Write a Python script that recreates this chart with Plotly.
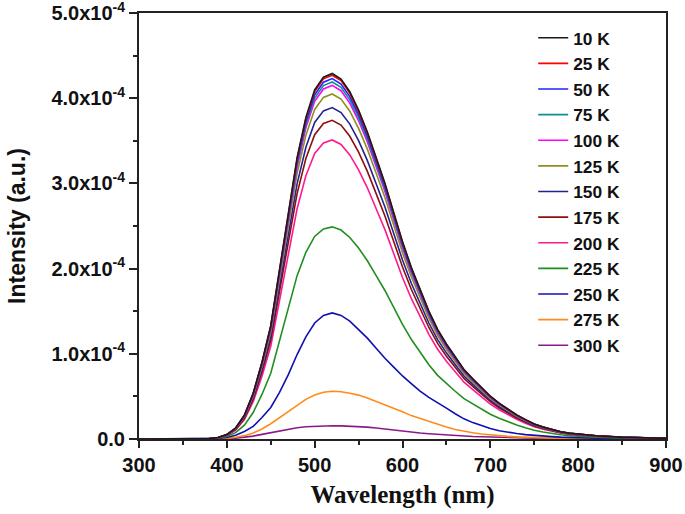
import plotly.graph_objects as go

# Wavelength grid (nm)
wavelength = [300, 350, 380, 390, 400, 410, 420, 430, 440, 450, 460, 470, 480, 490,
              500, 510, 520, 530, 540, 550, 560, 570, 580, 590, 600, 610, 620,
              630, 640, 650, 660, 670, 680, 690, 700, 710, 720, 730, 740, 750,
              760, 770, 780, 790, 800, 820, 850, 880, 900]

# Normalised band profiles (peak = 1 at ~520 nm)
profile_low_T = [0.0, 0.0, 0.001, 0.004, 0.012, 0.03, 0.065, 0.125, 0.21, 0.31, 0.46, 0.62, 0.77, 0.88,
                 0.955, 0.99, 1.0, 0.985, 0.95, 0.90, 0.84, 0.77, 0.70, 0.62, 0.54, 0.47, 0.41,
                 0.35, 0.30, 0.26, 0.225, 0.19, 0.165, 0.14, 0.117, 0.098, 0.081, 0.066, 0.053, 0.041,
                 0.033, 0.026, 0.020, 0.016, 0.013, 0.009, 0.005, 0.003, 0.002]
profile_250K = [0.0, 0.0, 0.001, 0.005, 0.012, 0.03, 0.06, 0.10, 0.17, 0.25, 0.37, 0.51, 0.67, 0.81,
                0.92, 0.98, 1.0, 0.98, 0.935, 0.87, 0.80, 0.72, 0.64, 0.57, 0.50, 0.44, 0.38,
                0.33, 0.29, 0.245, 0.20, 0.16, 0.13, 0.105, 0.083, 0.066, 0.053, 0.043, 0.035, 0.028,
                0.023, 0.019, 0.015, 0.012, 0.010, 0.007, 0.005, 0.003, 0.002]
profile_275K = [0.0, 0.0, 0.0, 0.003, 0.01, 0.035, 0.07, 0.125, 0.21, 0.32, 0.45, 0.58, 0.71, 0.83,
                0.92, 0.98, 1.0, 0.99, 0.96, 0.92, 0.86, 0.79, 0.72, 0.64, 0.57, 0.49, 0.43,
                0.36, 0.30, 0.25, 0.20, 0.16, 0.13, 0.105, 0.085, 0.07, 0.055, 0.045, 0.035, 0.028,
                0.022, 0.018, 0.014, 0.012, 0.010, 0.007, 0.004, 0.003, 0.002]
profile_300K = [0.0, 0.0, 0.0, 0.0, 0.03, 0.07, 0.13, 0.22, 0.35, 0.48, 0.62, 0.74, 0.85, 0.93,
                0.97, 0.99, 1.0, 0.995, 0.98, 0.95, 0.90, 0.83, 0.75, 0.66, 0.58, 0.51, 0.45,
                0.40, 0.35, 0.30, 0.26, 0.22, 0.19, 0.165, 0.14, 0.12, 0.10, 0.085, 0.07, 0.06,
                0.05, 0.042, 0.035, 0.03, 0.025, 0.018, 0.01, 0.007, 0.005]

# Series: temperature labels, peak intensities (x1e-4), colours
temps = ["10 K", "25 K", "50 K", "75 K", "100 K", "125 K", "150 K",
         "175 K", "200 K", "225 K", "250 K", "275 K", "300 K"]
peaks_e4 = [4.29, 4.27, 4.23, 4.19, 4.15, 4.05, 3.89, 3.74, 3.51, 2.49, 1.48, 0.56, 0.155]
colors = ["#1a1a1a", "#ff0000", "#2020ff", "#0f9090", "#ff00ff", "#8f8f1f", "#23238f",
          "#8b0f0f", "#ff1a8c", "#1f8f1f", "#1010b0", "#ff8c1a", "#8a1a8a"]
profile_names = ["low"] * 10 + ["250", "275", "300"]
profiles = {"low": profile_low_T, "250": profile_250K, "275": profile_275K, "300": profile_300K}

ytick_vals = [0, 1e-4, 2e-4, 3e-4, 4e-4, 5e-4]
ytick_text = ["0.0", "1.0x10<sup>-4</sup>", "2.0x10<sup>-4</sup>", "3.0x10<sup>-4</sup>",
              "4.0x10<sup>-4</sup>", "5.0x10<sup>-4</sup>"]
xtick_vals = [300, 400, 500, 600, 700, 800, 900]

fig = go.Figure()
for i in reversed(range(len(temps))):
    prof = profiles[profile_names[i]]
    y = [p * peaks_e4[i] * 1e-4 for p in prof]
    fig.add_trace(go.Scatter(
        x=wavelength, y=y, mode="lines", name=temps[i],
        line=dict(color=colors[i], width=1.6),
        legendrank=i + 1,
    ))

axis_common = dict(
    showgrid=False, zeroline=False, showline=True, linecolor="#222222", linewidth=2,
    mirror=True, ticks="outside", tickcolor="#222222", tickwidth=2, automargin=False,
    ticklabeloverflow="allow",
    tickfont=dict(family="Arial", size=20, color="#111111", weight="bold"),
)

fig.update_xaxes(
    range=[300, 900], tickvals=xtick_vals, ticklen=7,
    minor=dict(ticks="outside", dtick=50, tick0=300, ticklen=4, tickcolor="#222222", tickwidth=2),
    title=dict(text="<b>Wavelength (nm)</b>", font=dict(family="Liberation Serif", size=25, color="#111111"),
               standoff=10),
    **axis_common,
)
fig.update_yaxes(
    range=[0, 5e-4], tickvals=ytick_vals, ticktext=ytick_text, ticklen=8,
    minor=dict(ticks="outside", dtick=0.5e-4, tick0=0, ticklen=4, tickcolor="#222222", tickwidth=2),
    title=dict(text="<b>Intensity (a.u.)</b>", font=dict(family="Arial", size=23, color="#111111"),
               standoff=19),
    **axis_common,
)

fig.update_layout(
    width=685, height=514,
    margin=dict(l=139, r=19, t=13, b=75),
    plot_bgcolor="white", paper_bgcolor="white",
    legend=dict(
        x=0.748, y=0.9836, xanchor="left", yanchor="top",
        font=dict(family="Arial", size=17.4, color="#111111", weight="bold"),
        bgcolor="rgba(0,0,0,0)", traceorder="normal",
    ),
    showlegend=True,
)

fig.write_html("out.html", config={"displayModeBar": False},
               post_script="document.body.style.margin='0px';")
